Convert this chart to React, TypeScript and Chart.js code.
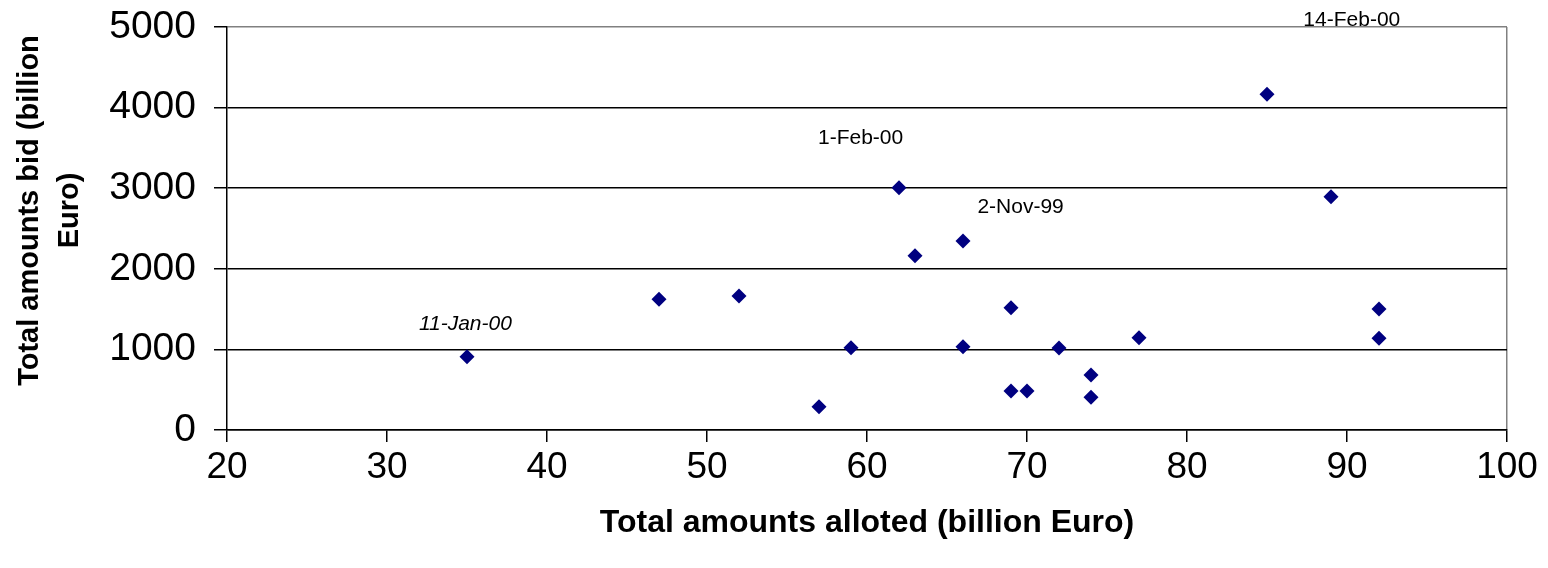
import React, { useEffect, useRef } from "react";
import { Chart, registerables } from "chart.js";

Chart.register(...registerables);

// ---- data ----
const allotted = [35, 47, 52, 57, 59, 62, 63, 66, 66, 69, 69, 70, 72, 74, 74, 77, 85, 89, 92, 92];
const bid = [909, 1621, 1662, 289, 1021, 3006, 2162, 2345, 1034, 1517, 484, 484, 1017, 682, 405, 1146, 4165, 2895, 1501, 1137];

const annotationTexts = ["14-Feb-00", "1-Feb-00", "2-Nov-99", "11-Jan-00"];
const annotationX = [90.3, 59.6, 69.6, 34.9];
const annotationY = [5087, 3623, 2767, 1315];
const annotationItalic = [false, false, false, true];

const xTitle = "Total amounts alloted (billion Euro)";
const yTitleLines = ["Total amounts bid (billion", "Euro)"];

const FONT = '"Liberation Sans", Arial, Helvetica, sans-serif';

const overlayPlugin = {
  id: "overlay",
  afterDraw(chart: any) {
    const { ctx, scales, chartArea } = chart;
    const x = scales.x;
    const y = scales.y;
    ctx.save();
    ctx.fillStyle = "#000";
    ctx.textAlign = "center";
    ctx.textBaseline = "middle";
    annotationTexts.forEach((t, i) => {
      ctx.font = `${annotationItalic[i] ? "italic " : ""}21px ${FONT}`;
      ctx.fillText(t, x.getPixelForValue(annotationX[i]), y.getPixelForValue(annotationY[i]));
    });
    // y axis title
    const cy = (chartArea.top + chartArea.bottom) / 2 - 18;
    const linesX = [30, 70];
    ctx.font = `bold 29px ${FONT}`;
    yTitleLines.forEach((line, i) => {
      ctx.save();
      ctx.translate(linesX[i], cy);
      ctx.rotate(-Math.PI / 2);
      ctx.fillText(line, 0, 0);
      ctx.restore();
    });
    ctx.restore();
  },
};

export default function App() {
  const ref = useRef<HTMLCanvasElement | null>(null);

  useEffect(() => {
    document.body.style.margin = "0";
    if (!ref.current) return;
    const points = allotted.map((v, i) => ({ x: v, y: bid[i] }));
    const chart = new Chart(ref.current, {
      type: "scatter",
      data: {
        datasets: [
          {
            data: points,
            pointStyle: "rectRot",
            pointRadius: 7.5,
            pointHoverRadius: 7.5,
            backgroundColor: "#000080",
            borderColor: "#000080",
            borderWidth: 0,
          },
        ],
      },
      options: {
        responsive: false,
        animation: false,
        devicePixelRatio: 1,
        layout: { padding: { left: 0, top: 27, right: 41, bottom: 0 } },
        plugins: {
          legend: { display: false },
          tooltip: { enabled: false },
        },
        scales: {
          x: {
            type: "linear",
            min: 20,
            max: 100,
            afterFit: (s: any) => {
              s.height = 138;
              s.paddingLeft = 0;
              s.paddingRight = 0;
            },
            ticks: {
              stepSize: 10,
              color: "#000",
              padding: 4,
              maxRotation: 0,
              font: { family: FONT, size: 37 },
            },
            grid: {
              drawOnChartArea: true,
              color: (c: any) => (c.tick && c.tick.value === 100 ? "#808080" : "rgba(0,0,0,0)"),
              tickColor: "#000",
              tickLength: 12,
              lineWidth: 1.5,
            },
            border: { display: true, color: "#000", width: 1.5 },
            title: {
              display: true,
              text: xTitle,
              color: "#000",
              font: { family: FONT, size: 32, weight: "bold" },
              padding: { top: 26, bottom: 26 },
            },
          },
          y: {
            type: "linear",
            min: 0,
            max: 5000,
            afterFit: (s: any) => {
              s.width = 227;
              s.paddingTop = 0;
              s.paddingBottom = 0;
            },
            ticks: {
              stepSize: 1000,
              color: "#000",
              padding: 18,
              font: { family: FONT, size: 39 },
              callback: (v: any) => String(v),
            },
            grid: {
              color: (c: any) => (c.tick && c.tick.value === 5000 ? "#808080" : "#000"),
              tickColor: "#000",
              tickLength: 13,
              lineWidth: 1.5,
            },
            border: { display: true, color: "#000", width: 1.5 },
          },
        },
      },
      plugins: [overlayPlugin],
    });
    return () => chart.destroy();
  }, []);

  return (
    <div style={{ width: 1548, height: 568 }}>
      <canvas ref={ref} width={1548} height={568} style={{ display: "block" }} />
    </div>
  );
}
